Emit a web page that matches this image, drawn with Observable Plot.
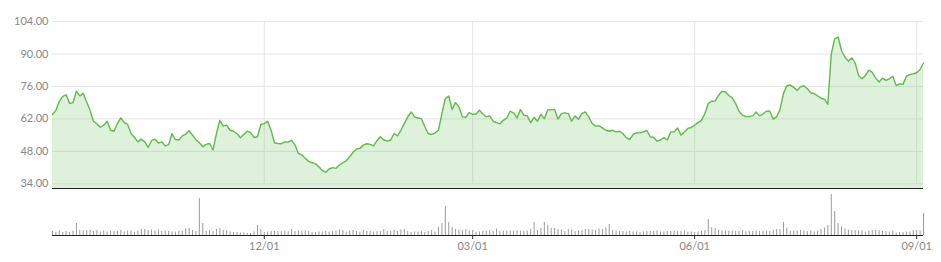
<!DOCTYPE html>
<html><head><meta charset="utf-8">
<script src="https://cdn.jsdelivr.net/npm/d3@7"></script>
<script src="https://cdn.jsdelivr.net/npm/@observablehq/plot@0.6"></script>
<style>
body{margin:0;background:#fff;}
#chart svg{display:block;}
</style>
</head><body><div id="chart"></div>
<script>
// Daily closing price, one value per trading day
const prices = [
63.9,65.7,69.6,71.7,72.4,68.6,69,73.9,71.9,73,
69.3,65.7,61,59.9,58.4,59.3,61,57.1,56.7,60,
62.4,60.4,59.6,55.7,54,52.1,53.3,52.1,49.7,52.6,
53.3,51.6,52.1,50.4,50.9,55.6,53.1,52.9,54.7,55.4,
56.9,55,53,51.7,50,51,51.4,48.6,55.7,61.4,
58.9,59.3,57.1,56.7,55.7,53.9,55.3,56.7,56.1,54,
54.3,59.6,60,61,57.1,51.6,51.4,51.3,52.1,52,
52.7,50.7,47.1,46.4,45,43.6,43.1,42.6,41.4,39.7,
39,40.4,41,40.7,42.1,43.1,43.9,45.7,47.6,49,
49.3,50.7,51.3,51,50.4,52.6,54.3,52.9,52.4,52.9,
55.7,54.7,57.1,60,62.9,65,62.9,62.4,62.1,58.6,
55.6,55.3,55.9,57.1,64.3,70.7,71.9,66,69,67.1,
62.9,62.7,64.7,64,64.1,65.7,64.1,62.9,63.3,61,
60.4,59.9,61.4,62.4,65.3,64.6,62.4,66,63.6,63.3,
60.4,62.7,61,64,62.1,65.9,65.9,66.1,61.9,64.3,
64.6,64.3,61,63.3,61.9,64.3,65,62.9,60,58.9,
59,58.1,57.1,56.7,57.1,56.4,56.7,55.7,53.9,53.1,
55.3,56,56,56.4,57,54.3,54,52.4,52.9,53.9,
52.9,56.4,56.4,58.1,55,56.4,57.9,58.3,59.3,60.4,
61.4,64.3,68.6,69.6,69.7,72.1,73.9,73.6,72.1,71.1,
68.6,65.3,63.6,63,63,63.3,65,63.3,64.1,65.3,
65.3,61.9,62.9,66,73,76.3,76.6,75.6,74.3,75.9,
76.3,75,73.3,72.9,71.9,70.9,70.5,68.3,90,96.5,
97.3,91.5,88.6,86.9,88.3,86.1,80.7,79.3,80.7,83,
82.1,79.6,77.9,79.6,78.6,79.3,80.4,76.4,77.1,76.9,
80.4,81.1,81.4,81.9,83.3,86.1
];
// Daily trading volume (relative units), one value per trading day
const volumes = [
4,3,4.5,3,4,3,4.5,12,5,4.5,
5,5,4,5,3.5,4.5,3.5,4.5,4,4,
5,3.5,4.5,4.5,3,4.5,6,6,5,5.5,
4.5,5.5,4,4.5,4,3.5,3.5,4,4.5,6.5,
7,5,4,37,12,4,5,4,6,7,
5,4.5,3.5,3,3,2.5,2.5,2,2,3.5,
10,6,3,3.5,4,4,4,4,4.5,4,
6,4,4.5,4.5,4.5,4,3,3,3.5,3.5,
4,3.5,4,4.5,5.5,5,3.5,4.5,5,4,
3.5,5,4,4,3.5,4,4,6,4,4.5,
5,4,5.5,6,4,3,3.5,3.5,4,3,
4,5,3.5,8,12,29,13,8,6,5.5,
5,6,4.5,5,3,3.5,4,4.5,5,4,
6.5,4.5,4.5,4.5,4.5,4.5,4.5,4.5,4,4.5,
6,13,5,7,13,10,7,7,6,5.5,
4,6,5.5,4,4.5,5,6,6,5.5,5,
6.5,6,7.5,11,5,4.5,4,4,3.5,4,
3.5,3.5,3,3.5,4,4,4,4.5,3.5,3.5,
4,4,4.5,4,4,4.5,3.5,3.5,3,3.5,
4,5,16,8,7,5,4.5,4.5,4.5,4.5,
4,4,5,3.5,4,4,4.5,4,4,4.5,
4,5,6,6,13,7,4.5,4.5,4.5,5,
4.5,4,4.5,3.5,4.5,6,7.5,10,41,24,
12,8.5,6.5,5.5,5,5,4.5,5,3.5,4.5,
5,5,5,4,4,3.5,4.5,2.5,3,3,
3.5,3.5,5,5,4.5,22
];
// Month tick positions (trading-day index) and their labels
const tickIndex = [62, 123, 188, 253];
const tickLabels = ["12/01", "03/01", "06/01", "09/01"];
const priceTicks = [34, 48, 62, 76, 90, 104];
const priceDomain = [32, 104];
const volumeDomain = [0, 41];

const days = prices.map((p, i) => ({i, price: p, volume: volumes[i]}));
const xDomain = [0, prices.length - 1];
const font = {fontFamily: "Lato, 'Open Sans', sans-serif", fontSize: "11px", color: "#888", background: "transparent"};

const pricePlot = Plot.plot({
  width: 941, height: 190,
  marginLeft: 52, marginRight: 18, marginTop: 21, marginBottom: 2,
  style: font,
  x: {domain: xDomain, axis: null, label: null},
  y: {domain: priceDomain, label: null},
  marks: [
    Plot.ruleY(priceTicks, {stroke: "#e6e6e6", strokeWidth: 1}),
    Plot.ruleX(tickIndex, {y1: priceTicks[0], y2: priceTicks[priceTicks.length - 1], stroke: "#e6e6e6", strokeWidth: 1}),
    Plot.areaY(days, {x: "i", y1: priceDomain[0], y2: "price", fill: "#5cbf4a", fillOpacity: 0.2}),
    Plot.lineY(days, {x: "i", y: "price", stroke: "#62b94d", strokeWidth: 1.4}),
    Plot.ruleY([priceDomain[0]], {stroke: "#222", strokeWidth: 1.2}),
    Plot.axisY({ticks: priceTicks, tickFormat: d => d.toFixed(2), tickSize: 0, tickPadding: 4, fill: "#888", label: null})
  ]
});

const volumePlot = Plot.plot({
  width: 941, height: 72,
  marginLeft: 52, marginRight: 18, marginTop: 4, marginBottom: 27,
  style: font,
  x: {domain: xDomain, label: null},
  y: {domain: volumeDomain, axis: null, label: null},
  marks: [
    Plot.ruleX(days, {x: "i", y1: 0, y2: "volume", stroke: "#9a9a9a", strokeWidth: 1}),
    Plot.ruleY([0], {stroke: "#222", strokeWidth: 1.2}),
    Plot.axisX({ticks: tickIndex, tickFormat: d => tickLabels[tickIndex.indexOf(d)], tickSize: 4, tickPadding: 3, stroke: "#333", fill: "#888", label: null})
  ]
});

document.getElementById("chart").append(pricePlot, volumePlot);
</script>
</body></html>
